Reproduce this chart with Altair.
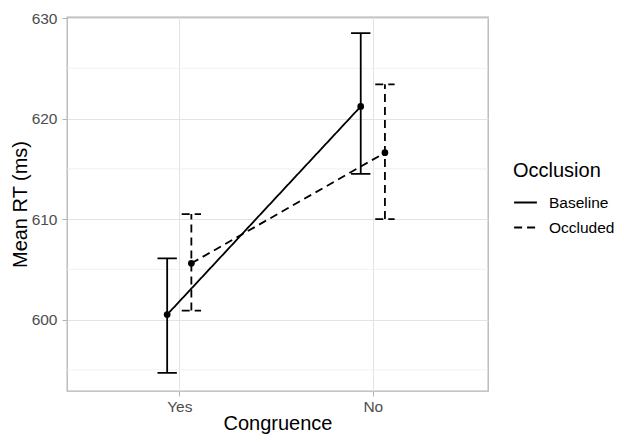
import altair as alt
import pandas as pd

# ---- data ----
congruence = ["Yes", "No"]
occlusion = ["Baseline", "Occluded"]
mean_baseline = [600.5, 621.2]
mean_occluded = [605.6, 616.6]
lower_baseline = [594.7, 614.5]
lower_occluded = [600.9, 610.0]
upper_baseline = [606.1, 628.5]
upper_occluded = [610.5, 623.4]
y_major = [600, 610, 620, 630]
y_minor = [595, 605, 615, 625]

dodge = {"Baseline": -0.0625, "Occluded": 0.0625}
cap_half = 0.05
LW = 1.8

rows = []
for occ, means, lows, ups in [
    ("Baseline", mean_baseline, lower_baseline, upper_baseline),
    ("Occluded", mean_occluded, lower_occluded, upper_occluded),
]:
    for i, c in enumerate(congruence):
        xp = i + 1 + dodge[occ]
        rows.append(dict(Congruence=c, Occlusion=occ, x=xp,
                         xl=xp - cap_half, xr=xp + cap_half,
                         mean=means[i], lower=lows[i], upper=ups[i]))
df = pd.DataFrame(rows)
minor_df = pd.DataFrame({"v": y_minor})

FONT = "Liberation Sans"
label_expr = "[" + ",".join(f"'{c}'" for c in congruence) + "][datum.value - 1]"

xscale = alt.Scale(domain=[0.42, 2.595], nice=False, zero=False)
yscale = alt.Scale(domain=[592.9, 630.1], nice=False, zero=False)
dash_scale = alt.Scale(domain=occlusion, range=[[1, 0], [8, 5]])

x_axis = alt.Axis(values=[1, 2], labelExpr=label_expr, title="Congruence",
                  grid=True, gridColor="#E3E3E3", gridWidth=1,
                  domain=False, tickColor="#B3B3B3", tickSize=5, tickWidth=1,
                  labelFont=FONT, labelFontSize=15.5, labelColor="#4D4D4D",
                  labelPadding=3, titleFont=FONT, titleFontSize=20,
                  titleFontWeight="normal", titleColor="black",
                  titleBaseline="alphabetic", titleY=38)
y_axis = alt.Axis(values=y_major, title="Mean RT (ms)",
                  grid=True, gridColor="#E3E3E3", gridWidth=1,
                  domain=False, tickColor="#B3B3B3", tickSize=5, tickWidth=1,
                  labelFont=FONT, labelFontSize=15.5, labelColor="#4D4D4D",
                  labelPadding=5, titleFont=FONT, titleFontSize=20,
                  titleFontWeight="normal", titleColor="black",
                  titleBaseline="alphabetic", titleX=-40.5)

legend = alt.Legend(title="Occlusion", orient="none", legendX=446, legendY=144,
                    symbolType="stroke", symbolSize=520, symbolStrokeWidth=LW,
                    symbolStrokeColor="black",
                    labelFont=FONT, labelFontSize=15.5, labelColor="black",
                    labelOffset=11, titleFont=FONT, titleFontSize=20,
                    titleFontWeight="normal", titleColor="black",
                    titlePadding=9, rowPadding=4, padding=0)

base = alt.Chart(df)

minor = alt.Chart(minor_df).mark_rule(color="#EDEDED", strokeWidth=0.8).encode(
    y=alt.Y("v:Q", scale=yscale, axis=y_axis)
)

lines = base.mark_line(color="black", strokeWidth=LW).encode(
    x=alt.X("x:Q", scale=xscale, axis=x_axis),
    y=alt.Y("mean:Q", scale=yscale, axis=y_axis),
    strokeDash=alt.StrokeDash("Occlusion:N", scale=dash_scale, legend=legend),
    detail="Occlusion:N",
)

vbars = base.mark_rule(color="black", strokeWidth=LW).encode(
    x=alt.X("x:Q", scale=xscale),
    y=alt.Y("lower:Q", scale=yscale),
    y2="upper:Q",
    strokeDash=alt.StrokeDash("Occlusion:N", scale=dash_scale, legend=legend),
)

cap_top = base.mark_rule(color="black", strokeWidth=LW).encode(
    x=alt.X("xl:Q", scale=xscale),
    x2="xr:Q",
    y=alt.Y("upper:Q", scale=yscale),
    strokeDash=alt.StrokeDash("Occlusion:N", scale=dash_scale, legend=legend),
)

cap_bot = base.mark_rule(color="black", strokeWidth=LW).encode(
    x=alt.X("xl:Q", scale=xscale),
    x2="xr:Q",
    y=alt.Y("lower:Q", scale=yscale),
    strokeDash=alt.StrokeDash("Occlusion:N", scale=dash_scale, legend=legend),
)

points = base.mark_point(filled=True, color="black", size=45, opacity=1).encode(
    x=alt.X("x:Q", scale=xscale),
    y=alt.Y("mean:Q", scale=yscale),
)

chart = alt.layer(minor, lines, vbars, cap_top, cap_bot, points).properties(
    width=421, height=374,
    autosize=alt.AutoSizeParams(type="none"),
    padding={"left": 59, "top": 9, "right": 128, "bottom": 43},
    background="white",
).configure_view(stroke="#B3B3B3", strokeWidth=1.3)

chart.save("out.html", embed_options={"renderer": "svg", "actions": False})
